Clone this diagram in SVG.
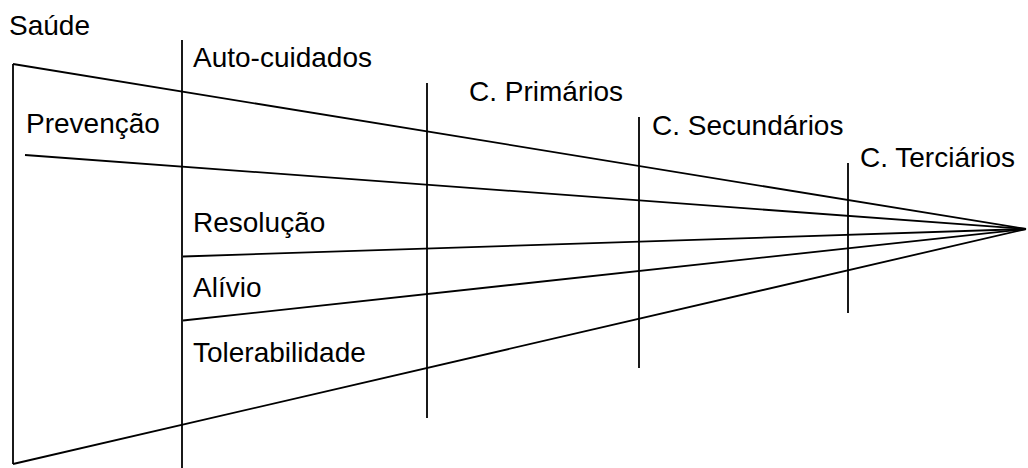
<svg xmlns="http://www.w3.org/2000/svg" width="1028" height="468" viewBox="0 0 1028 468">
<style>
.t{font-family:"Liberation Sans",Arial,sans-serif;font-size:28px;fill:#000}
.l{stroke:#000;stroke-width:1.8;fill:none;stroke-linecap:butt}
</style>
<rect width="1028" height="468" fill="#fff"/>
<g id="connectors">
<line class="l" x1="13" y1="64" x2="13" y2="464"/>
<line class="l" x1="13" y1="64" x2="1026" y2="229"/>
<line class="l" x1="13" y1="464" x2="1026" y2="229"/>
<line class="l" x1="25" y1="155" x2="1026" y2="229"/>
<line class="l" x1="183" y1="256.5" x2="1026" y2="229"/>
<line class="l" x1="183" y1="320.5" x2="1026" y2="229"/>
<line class="l" x1="182" y1="40" x2="182" y2="468"/>
<line class="l" x1="427" y1="83" x2="427" y2="418"/>
<line class="l" x1="639" y1="117" x2="639" y2="368"/>
<line class="l" x1="848" y1="163" x2="848" y2="313"/>
</g>
<g id="saude"><text class="t" x="9" y="35">Saúde</text></g>
<g id="auto"><text class="t" x="193" y="67">Auto-cuidados</text></g>
<g id="primarios"><text class="t" x="469" y="101">C. Primários</text></g>
<g id="secundarios"><text class="t" x="652" y="135">C. Secundários</text></g>
<g id="terciarios"><text class="t" x="860" y="167">C. Terciários</text></g>
<g id="prevencao"><text class="t" x="26" y="133">Prevenção</text></g>
<g id="resolucao"><text class="t" x="193" y="232">Resolução</text></g>
<g id="alivio"><text class="t" x="193" y="297">Alívio</text></g>
<g id="tolerabilidade"><text class="t" x="193" y="362">Tolerabilidade</text></g>
</svg>
